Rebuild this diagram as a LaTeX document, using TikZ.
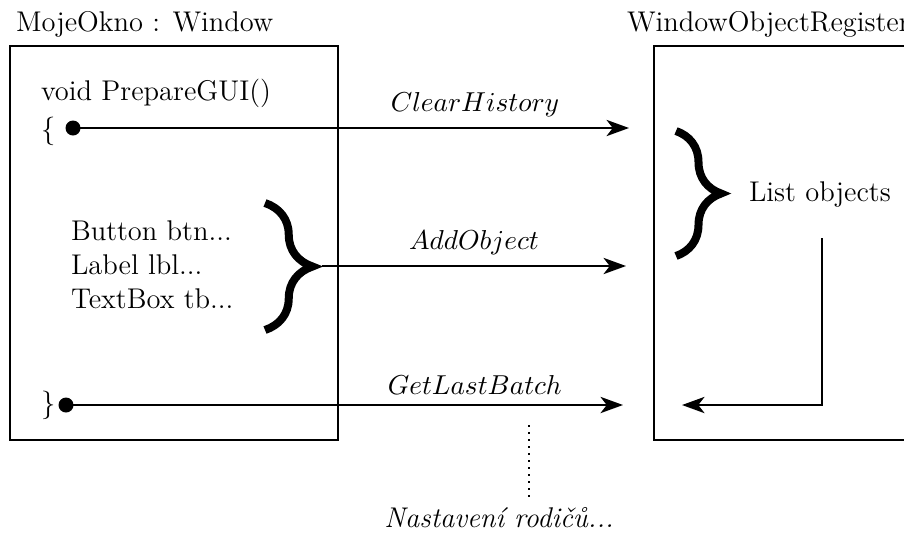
\documentclass[tikz,border=0pt]{standalone}
\usepackage{amsmath, amssymb}
\usepackage{tikz}
\usetikzlibrary{positioning, calc, arrows.meta, decorations.pathreplacing}

\begin{document}
\begin{tikzpicture}[x=0.4pt, y=-0.4pt, line width=0.8pt,
	every node/.style={font=\fontsize{11.4}{13.5}\selectfont, inner sep=0pt},
	msglabel/.style={font=\fontsize{11}{13}\selectfont},
	msg/.style={-{Stealth[length=9pt, width=6.5pt, inset=2.5pt]}},
	bigbrace/.style={decorate, decoration={brace, amplitude=#1}, line width=3.2pt},
	bod/.style={circle, fill, minimum size=6pt}]
\useasboundingbox (0, 0) rectangle (904, 536);
\clip (0, 0) rectangle (904, 536);
% objekty
\node[anchor=base west] (okno title) at (15, 31) {MojeOkno : Window};
\node[anchor=base west] (reg title) at (626, 31) {WindowObjectRegister};
\draw (10, 46) rectangle (338, 440);
\draw (654, 46) rectangle (930, 440);
% metoda
\node[anchor=base west] (prepare) at (40, 100) {void PrepareGUI()};
\node[anchor=west] (open) at (40, 131) {\{};
\node[anchor=west] (close) at (40, 405) {\}};
\node[bod] (open dot) at (73, 128) {};
\node[bod] (close dot) at (66, 405) {};
\foreach \i/\t in {0/{Button btn...}, 1/{Label lbl...}, 2/{TextBox tb...}}
	\node[anchor=base west] (item \i) at (70, 240 + 34 * \i) {\t};
\draw[bigbrace=19pt] (265, 203) -- (265, 330);
\coordinate (items out) at (322, 266);
% registr
\draw[bigbrace=18pt] (676, 131) -- (676, 256);
\node[anchor=west] (list) at (748, 195) {List objects};
\coordinate (reg in 1) at (629, 128);
\coordinate (reg in 2) at (626, 266);
\coordinate (reg in 3) at (623, 405);
\coordinate (list out) at (822, 238);
\coordinate (list back) at (682, 405);
% zpravy
\draw[msg] (open dot.center) -- (reg in 1) node[msglabel, pos=0.723, above=4pt] (clear) {$ClearHistory$};
\draw[msg] (items out) -- (reg in 2) node[msglabel, midway, above=4pt] (add) {$AddObject$};
\draw[msg] (close dot.center) -- (reg in 3) node[msglabel, pos=0.734, above=4pt] (last) {$GetLastBatch$};
\draw[msg] (list out) |- (list back);
% poznamka
\node[anchor=base] (parents) at (499, 527) {\itshape Nastavení rodičů...};
\coordinate (note top) at (529, 425);
\coordinate (note bottom) at (529, 498);
\draw[dotted] (note top) -- (note bottom);
\end{tikzpicture}
\end{document}
